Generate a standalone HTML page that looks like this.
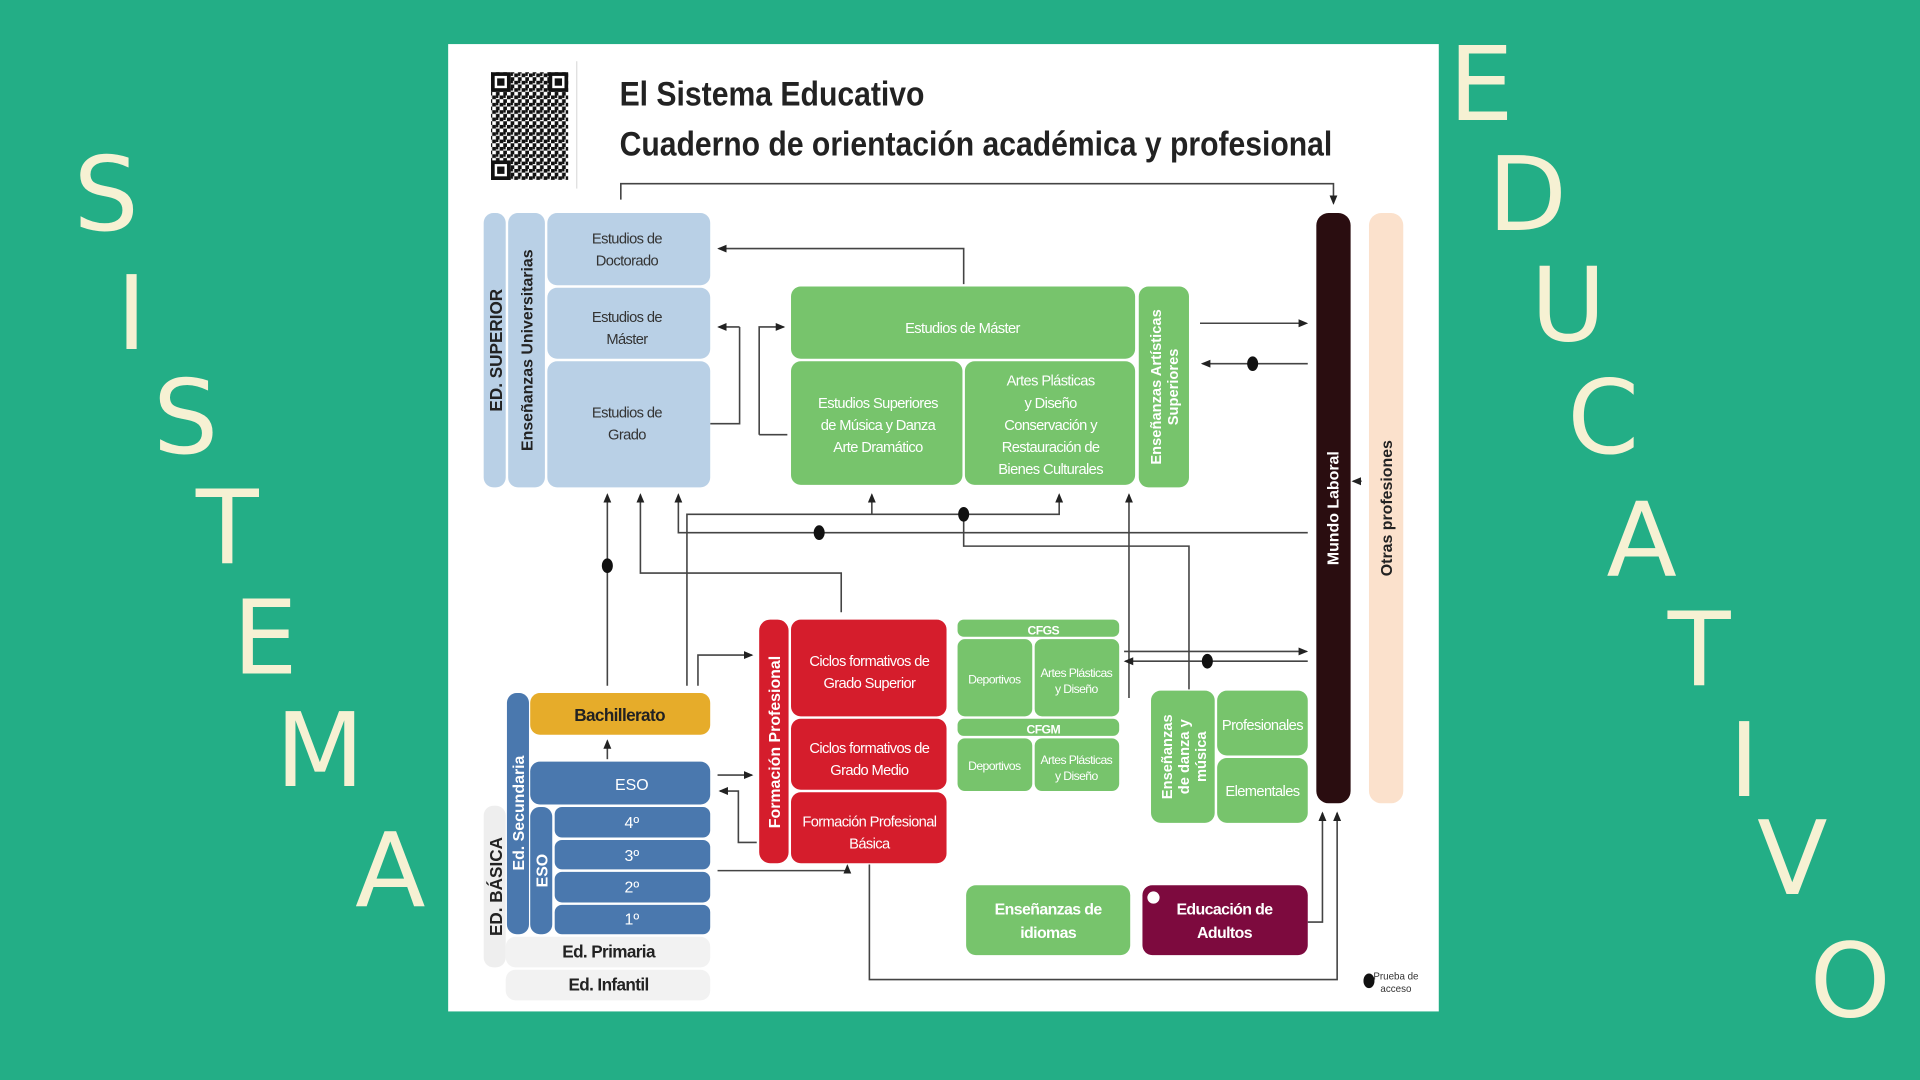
<!DOCTYPE html>
<html><head><meta charset="utf-8"><style>
html,body{margin:0;padding:0;background:#23ae86;overflow:hidden}
svg{display:block}
.big{font-family:"DejaVu Sans","Liberation Sans",sans-serif;font-size:84px;fill:#f6f1d3}
.t{font-family:"Liberation Sans",sans-serif;text-anchor:middle}
.c{letter-spacing:-0.5px}
</style></head><body>
<svg width="1920" height="1080" viewBox="0 0 1568 882" xmlns="http://www.w3.org/2000/svg">
<defs>
<marker id="a" markerWidth="6" markerHeight="6" refX="5" refY="3" orient="auto"><path d="M0,0.5 L6,3 L0,5.5z" fill="#222"/></marker>
<pattern id="qr" width="6" height="6" patternUnits="userSpaceOnUse"><rect width="3" height="3" fill="#111"/><rect x="3" y="3" width="3" height="3" fill="#111"/><rect x="3" y="0" width="2" height="2" fill="#111"/></pattern>
</defs>
<rect width="1568" height="882" fill="#23ae86"/>
<g class="big">
<text x="60" y="188">S</text><text x="95" y="285">I</text><text x="125" y="370">S</text><text x="160" y="460">T</text>
<text x="190" y="550">E</text><text x="225" y="642">M</text><text x="290" y="740">A</text>
<text x="1183" y="98">E</text><text x="1215" y="188">D</text><text x="1250" y="278">U</text><text x="1280" y="370">C</text>
<text x="1312" y="470">A</text><text x="1362" y="560">T</text><text x="1412" y="650">I</text><text x="1435" y="730">V</text><text x="1478" y="830">O</text>
</g>
<rect x="366" y="36" width="809" height="790" fill="#fff"/>
<!-- QR -->
<rect x="401" y="59" width="63" height="88" fill="url(#qr)"/>
<g fill="#111">
<rect x="401" y="59" width="16" height="16"/><rect x="448" y="59" width="16" height="16"/><rect x="401" y="131" width="16" height="16"/>
<rect x="404" y="62" width="10" height="10" fill="#fff"/><rect x="451" y="62" width="10" height="10" fill="#fff"/><rect x="404" y="134" width="10" height="10" fill="#fff"/>
<rect x="406" y="64" width="6" height="6"/><rect x="453" y="64" width="6" height="6"/><rect x="406" y="136" width="6" height="6"/>
</g>
<line x1="471" y1="50" x2="471" y2="154" stroke="#ddd"/>
<text x="506" y="86" font-family="Liberation Sans,sans-serif" font-weight="bold" font-size="28" textLength="249" lengthAdjust="spacingAndGlyphs" fill="#222">El Sistema Educativo</text>
<text x="506" y="127" font-family="Liberation Sans,sans-serif" font-weight="bold" font-size="28" textLength="582" lengthAdjust="spacingAndGlyphs" fill="#222">Cuaderno de orientación académica y profesional</text>

<!-- lines -->
<g stroke="#444" stroke-width="1.3" fill="none">
<path d="M507,163 V150 H1089 V166" marker-end="url(#a)"/>
<path d="M787,232 V203 H587" marker-end="url(#a)"/>
<path d="M604,267 H587" marker-end="url(#a)"/><path d="M580,346 H604 V267"/>
<path d="M620,355 V267 H640" marker-end="url(#a)"/><path d="M620,355 H643"/>
<path d="M980,264 H1067" marker-end="url(#a)"/><path d="M1068,297 H982" marker-end="url(#a)"/>
<path d="M1112,393 H1105" marker-end="url(#a)"/>
<path d="M496,560 V404" marker-end="url(#a)"/>
<path d="M687,500 V468 H523 V404" marker-end="url(#a)"/>
<path d="M1068,435 H554 V404" marker-end="url(#a)"/>
<path d="M561,560 V420 H865 V404" marker-end="url(#a)"/>
<path d="M712,420 V404" marker-end="url(#a)"/>
<path d="M922,570 V404" marker-end="url(#a)"/>
<path d="M787,420 V446 H971 V563"/>
<path d="M570,560 V535 H614" marker-end="url(#a)"/>
<path d="M496,620 V605" marker-end="url(#a)"/>
<path d="M586,633 H614" marker-end="url(#a)"/>
<path d="M618,688 H603 V646 H588" marker-end="url(#a)"/>
<path d="M586,711 H692 V707" marker-end="url(#a)"/>
<path d="M710,706 V800 H1092 V664" marker-end="url(#a)"/>
<path d="M1068,753 H1080 V664" marker-end="url(#a)"/>
<path d="M918,532 H1067" marker-end="url(#a)"/><path d="M1068,540 H919" marker-end="url(#a)"/>
</g>
<g fill="#111">
<ellipse cx="1023" cy="297" rx="4.5" ry="6"/><ellipse cx="496" cy="462" rx="4.5" ry="6"/><ellipse cx="669" cy="435" rx="4.5" ry="6"/>
<ellipse cx="787" cy="420" rx="4.5" ry="6"/><ellipse cx="986" cy="540" rx="4.5" ry="6"/><ellipse cx="1118" cy="801" rx="4.5" ry="6"/>
</g>
<text x="1140" y="800" class="t" font-size="8" fill="#333">Prueba de</text><text x="1140" y="810" class="t" font-size="8" fill="#333">acceso</text>

<!-- superior -->
<g fill="#b9d0e6">
<rect x="395" y="174" width="18" height="224" rx="8"/><rect x="415" y="174" width="30" height="224" rx="8"/>
<rect x="447" y="174" width="133" height="59" rx="8"/><rect x="447" y="235" width="133" height="58" rx="8"/><rect x="447" y="295" width="133" height="103" rx="8"/>
</g>
<text transform="translate(410,286) rotate(-90)" class="t" font-size="14" font-weight="bold" fill="#222">ED. SUPERIOR</text>
<text transform="translate(435,286) rotate(-90)" class="t" font-size="13" font-weight="bold" fill="#222">Enseñanzas Universitarias</text>
<g class="t c" font-size="12" fill="#333">
<text x="512" y="199">Estudios de</text><text x="512" y="217">Doctorado</text>
<text x="512" y="263">Estudios de</text><text x="512" y="281">Máster</text>
<text x="512" y="341">Estudios de</text><text x="512" y="359">Grado</text>
</g>
<!-- artisticas -->
<g fill="#77c46c">
<rect x="646" y="234" width="281" height="59" rx="8"/><rect x="646" y="295" width="140" height="101" rx="8"/><rect x="788" y="295" width="139" height="101" rx="8"/>
<rect x="930" y="234" width="41" height="164" rx="8"/>
</g>
<g class="t c" font-size="12" fill="#fff">
<text x="786" y="272">Estudios de Máster</text>
<text x="717" y="333">Estudios Superiores</text><text x="717" y="351">de Música y Danza</text><text x="717" y="369">Arte Dramático</text>
<text x="858" y="315">Artes Plásticas</text><text x="858" y="333">y Diseño</text><text x="858" y="351">Conservación y</text><text x="858" y="369">Restauración de</text><text x="858" y="387">Bienes Culturales</text>
</g>
<text transform="translate(948,316) rotate(-90)" class="t" font-size="12" font-weight="bold" fill="#fff">Enseñanzas Artísticas</text>
<text transform="translate(962,316) rotate(-90)" class="t" font-size="12" font-weight="bold" fill="#fff">Superiores</text>
<!-- mundo -->
<rect x="1075" y="174" width="28" height="482" rx="10" fill="#2a0d10"/>
<rect x="1118" y="174" width="28" height="482" rx="10" fill="#fbe1cc"/>
<text transform="translate(1093,415) rotate(-90)" class="t" font-size="13" font-weight="bold" fill="#fff">Mundo Laboral</text>
<text transform="translate(1137,415) rotate(-90)" class="t" font-size="13" font-weight="bold" fill="#222">Otras profesiones</text>
<!-- basica -->
<rect x="395" y="658" width="18" height="132" rx="8" fill="#eee"/>
<rect x="413" y="765" width="167" height="25" rx="8" fill="#f2f2f2"/><rect x="413" y="792" width="167" height="25" rx="8" fill="#f2f2f2"/>
<text transform="translate(410,724) rotate(-90)" class="t" font-size="14" font-weight="bold" fill="#222">ED. BÁSICA</text>
<g class="t c" font-size="14" font-weight="bold" fill="#222"><text x="497" y="782">Ed. Primaria</text><text x="497" y="809">Ed. Infantil</text></g>
<rect x="433" y="566" width="147" height="34" rx="8" fill="#e6ac2a"/>
<text x="506" y="589" class="t c" font-size="14" font-weight="bold" fill="#222">Bachillerato</text>
<g fill="#4a78ae">
<rect x="414" y="566" width="18" height="197" rx="8"/><rect x="433" y="622" width="147" height="35" rx="8"/><rect x="433" y="659" width="18" height="104" rx="8"/>
<rect x="453" y="659" width="127" height="25" rx="6"/><rect x="453" y="686" width="127" height="24" rx="6"/><rect x="453" y="712" width="127" height="25" rx="6"/><rect x="453" y="739" width="127" height="24" rx="6"/>
</g>
<text transform="translate(428,664) rotate(-90)" class="t" font-size="13" font-weight="bold" fill="#fff">Ed. Secundaria</text>
<text transform="translate(447,711) rotate(-90)" class="t" font-size="13" font-weight="bold" fill="#fff">ESO</text>
<g class="t" font-size="13" fill="#fff"><text x="516" y="645">ESO</text><text x="516" y="676">4º</text><text x="516" y="703">3º</text><text x="516" y="729">2º</text><text x="516" y="755">1º</text></g>
<!-- FP -->
<g fill="#d51d2c">
<rect x="620" y="506" width="24" height="199" rx="9"/><rect x="646" y="506" width="127" height="79" rx="8"/><rect x="646" y="587" width="127" height="58" rx="8"/><rect x="646" y="647" width="127" height="58" rx="8"/>
</g>
<text transform="translate(637,606) rotate(-90)" class="t" font-size="13" font-weight="bold" fill="#fff">Formación Profesional</text>
<g class="t c" font-size="12" fill="#fff">
<text x="710" y="544">Ciclos formativos de</text><text x="710" y="562">Grado Superior</text>
<text x="710" y="615">Ciclos formativos de</text><text x="710" y="633">Grado Medio</text>
<text x="710" y="675">Formación Profesional</text><text x="710" y="693">Básica</text>
</g>
<!-- CF art -->
<g fill="#77c46c">
<rect x="782" y="506" width="132" height="14" rx="5"/><rect x="782" y="522" width="61" height="63" rx="6"/><rect x="845" y="522" width="69" height="63" rx="6"/>
<rect x="782" y="587" width="132" height="14" rx="5"/><rect x="782" y="603" width="61" height="43" rx="6"/><rect x="845" y="603" width="69" height="43" rx="6"/>
<rect x="940" y="564" width="52" height="108" rx="8"/><rect x="994" y="564" width="74" height="53" rx="8"/><rect x="994" y="619" width="74" height="53" rx="8"/>
<rect x="789" y="723" width="134" height="57" rx="8"/>
</g>
<rect x="933" y="723" width="135" height="57" rx="8" fill="#7d0a3e"/>
<circle cx="942" cy="733" r="5" fill="#fff"/>
<g class="t c" fill="#fff">
<text x="852" y="518" font-size="10" font-weight="bold">CFGS</text><text x="852" y="599" font-size="10" font-weight="bold">CFGM</text>
<text x="812" y="558" font-size="10">Deportivos</text><text x="879" y="553" font-size="10">Artes Plásticas</text><text x="879" y="566" font-size="10">y Diseño</text>
<text x="812" y="629" font-size="10">Deportivos</text><text x="879" y="624" font-size="10">Artes Plásticas</text><text x="879" y="637" font-size="10">y Diseño</text>
<text x="1031" y="596" font-size="12">Profesionales</text><text x="1031" y="650" font-size="12">Elementales</text>
<text x="856" y="747" font-size="13" font-weight="bold">Enseñanzas de</text><text x="856" y="766" font-size="13" font-weight="bold">idiomas</text>
<text x="1000" y="747" font-size="13" font-weight="bold">Educación de</text><text x="1000" y="766" font-size="13" font-weight="bold">Adultos</text>
</g>
<g class="t" font-size="12" font-weight="bold" fill="#fff">
<text transform="translate(957,618) rotate(-90)">Enseñanzas</text>
<text transform="translate(971,618) rotate(-90)">de danza y</text>
<text transform="translate(985,618) rotate(-90)">música</text>
</g>
</svg>
</body></html>
